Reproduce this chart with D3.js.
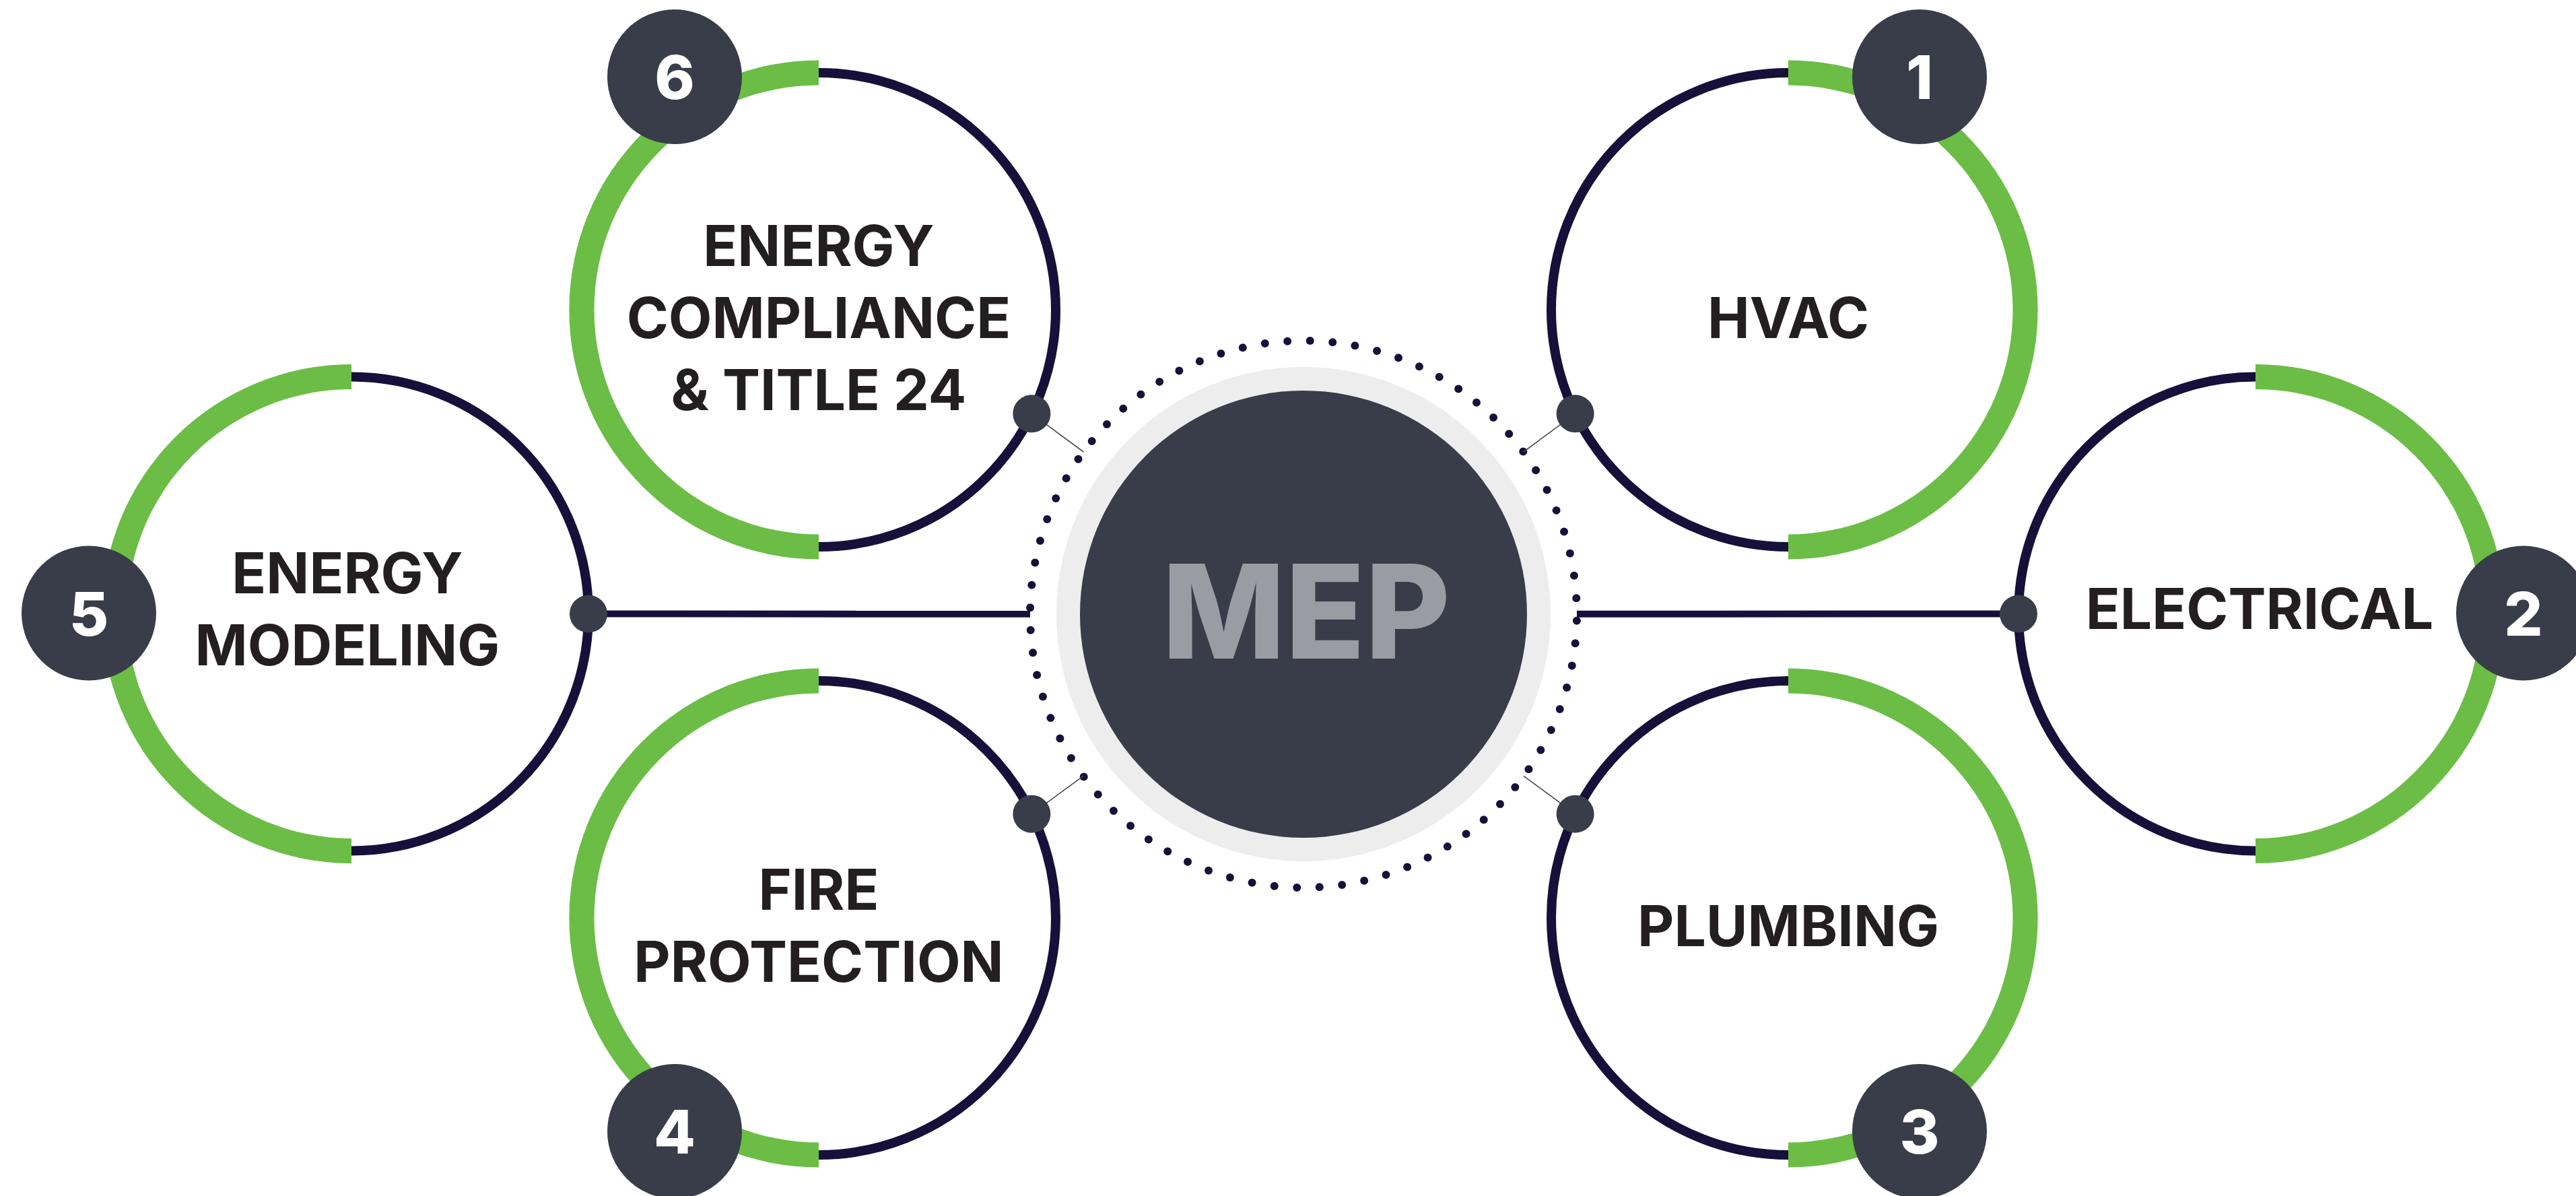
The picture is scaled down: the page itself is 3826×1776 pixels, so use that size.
<!DOCTYPE html>
<html>
<head>
<meta charset="utf-8">
<script src="https://cdn.jsdelivr.net/npm/d3@7"></script>
<style>
  body { margin: 0; background: #fff; }
  svg { display: block; }
  text { font-family: Inter, "Open Sans", sans-serif; }
</style>
</head>
<body>
<svg id="chart" width="3826" height="1776"></svg>
<script>
// service names, numbered clockwise from top right
var numbers = ["1", "2", "3", "4", "5", "6"];
var labels = [
  ["HVAC"],
  ["ELECTRICAL"],
  ["PLUMBING"],
  ["FIRE", "PROTECTION"],
  ["ENERGY", "MODELING"],
  ["ENERGY", "COMPLIANCE", "& TITLE 24"]
];
// where each ring sits: side (-1 left / 1 right) and row (-1 top, 0 middle, 1 bottom)
var sides = [1, 1, 1, -1, -1, -1];
var rows = [-1, 0, 1, 1, 0, -1];
var centerLabel = "MEP";

var cx = 1936, cy = 912;
var ringR = 352;

var green = "#6bbd45", navy = "#17103a", slate = "#393d4a", ink = "#231f20";

var svg = d3.select("#chart");

// rows map straight to y, columns: inner ring sits on diagonal rows, outer ring on middle row
var y = d3.scaleLinear().domain([-1, 1]).range([460, 1363]);
var colOffset = d3.scaleOrdinal().domain(["inner", "outer"]).range([720, 1414]);

// badge offsets from ring centre, by row
var badgeDX = d3.scaleOrdinal().domain([-1, 0, 1]).range([204.5, 394, 204.5]);
var badgeShift = d3.scaleOrdinal().domain([-1, 0, 1]).range([-9.5, 4, -9.5]);
var badgeDY = d3.scaleOrdinal().domain([-1, 0, 1]).range([-346, -1, 317]);

var nodes = numbers.map(function(n, i) {
  var s = sides[i], r = rows[i];
  return {
    num: n,
    lines: labels[i],
    side: s,
    row: r,
    x: cx + s * colOffset(r === 0 ? "outer" : "inner"),
    y: y(r)
  };
});

nodes.forEach(function(d) {
  var a = d.row === 0 ? 0 : 26 * Math.PI / 180;
  d.px = d.x - d.side * ringR * Math.cos(a);
  d.py = d.y - d.row * ringR * Math.sin(a);
  d.bx = d.x + d.side * badgeDX(d.row) + badgeShift(d.row);
  d.by = d.y + badgeDY(d.row);
});

// dotted ring round the hub
var dotR = 406, dotCount = 76;
svg.append("g").selectAll("circle")
    .data(d3.range(dotCount))
    .enter().append("circle")
    .attr("cx", function(i) { return cx + dotR * Math.sin(2 * Math.PI * i / dotCount + 0.024); })
    .attr("cy", function(i) { return cy - dotR * Math.cos(2 * Math.PI * i / dotCount + 0.024); })
    .attr("r", 6)
    .attr("fill", navy);

// links from rings to hub
nodes.forEach(function(d) {
  var dx = cx - d.px, dy = cy - d.py;
  var len = Math.sqrt(dx * dx + dy * dy);
  var ex = cx - dx / len * dotR, ey = cy - dy / len * dotR;
  svg.append("line")
      .attr("x1", d.px).attr("y1", d.py)
      .attr("x2", ex).attr("y2", ey)
      .attr("stroke", d.row === 0 ? navy : "#4a4a55")
      .attr("stroke-width", d.row === 0 ? 10 : 1.6);
});

// hub
svg.append("circle").attr("cx", cx).attr("cy", cy).attr("r", 367).attr("fill", "#ededed");
svg.append("circle").attr("cx", cx).attr("cy", cy).attr("r", 332).attr("fill", slate);
svg.append("text")
    .attr("x", cx + 4).attr("y", cy + 66)
    .attr("text-anchor", "middle")
    .attr("font-size", 194)
    .attr("font-weight", 800)
    .attr("fill", "#9a9ca4")
    .text(centerLabel);

// rings
var g = svg.selectAll("g.node").data(nodes).enter().append("g")
    .attr("class", "node")
    .attr("transform", function(d) { return "translate(" + d.x + "," + d.y + ")"; });

g.append("circle")
    .attr("r", ringR)
    .attr("fill", "#fff")
    .attr("stroke", navy)
    .attr("stroke-width", 14);

var arc = d3.arc().innerRadius(ringR - 18.5).outerRadius(ringR + 18.5);
g.append("path")
    .attr("fill", green)
    .attr("d", function(d) { return arc({ startAngle: 0, endAngle: d.side * Math.PI }); });

// labels
g.each(function(d) {
  var lh = 107, cap = 61;
  var shift = d.row === 0 ? -8 : 11;
  var n = d.lines.length;
  var t = d3.select(this).append("text")
      .attr("text-anchor", "middle")
      .attr("font-size", 84)
      .attr("font-weight", 700)
      .attr("fill", ink);
  d.lines.forEach(function(line, i) {
    t.append("tspan")
        .attr("x", d.row === 0 ? d.side * 6 : 0)
        .attr("y", shift + cap / 2 + (i - (n - 1) / 2) * lh)
        .text(line);
  });
});

// connector dots
svg.selectAll("circle.pin").data(nodes).enter().append("circle")
    .attr("class", "pin")
    .attr("cx", function(d) { return d.px; })
    .attr("cy", function(d) { return d.py; })
    .attr("r", 28)
    .attr("fill", slate);

// number badges
var badge = svg.selectAll("g.badge").data(nodes).enter().append("g")
    .attr("class", "badge")
    .attr("transform", function(d) { return "translate(" + d.bx + "," + d.by + ")"; });
badge.append("circle").attr("r", 100).attr("fill", slate);
badge.append("text")
    .attr("text-anchor", "middle")
    .attr("y", 33)
    .attr("font-size", 90)
    .attr("font-weight", 800)
    .attr("fill", "#fff")
    .text(function(d) { return d.num; });
</script>
</body>
</html>
